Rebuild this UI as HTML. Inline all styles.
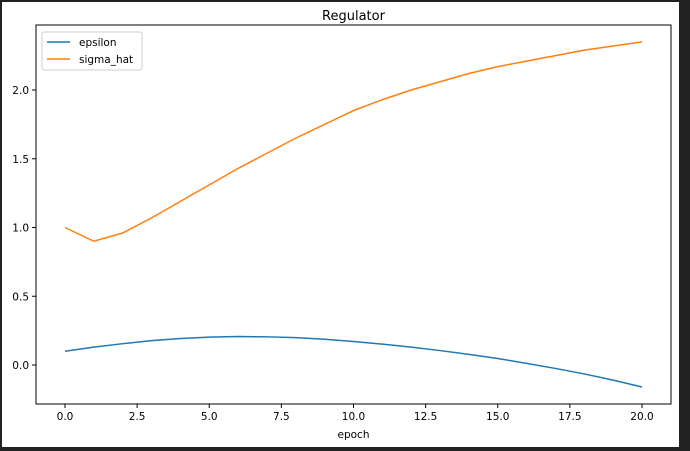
<!DOCTYPE html>
<html><head><style>
body{margin:0;background:#fff;}
svg{display:block;font-family:"DejaVu Sans","Liberation Sans",sans-serif;}
</style></head><body>
<svg id="s" width="690" height="451" xmlns="http://www.w3.org/2000/svg">
<rect x="0" y="0" width="690" height="451" fill="#222"/>
<rect x="2" y="2" width="677" height="445" fill="#fff"/>
<text x="353.5" y="20" font-size="13" text-anchor="middle">Regulator</text>
<rect x="36" y="25" width="635" height="379" fill="none" stroke="#000" stroke-width="1"/>
<g id="t" font-size="10.5" fill="#000"></g>
<text x="353.5" y="438" font-size="10.5" text-anchor="middle">epoch</text>
<polyline id="e" fill="none" stroke="#1f77b4" stroke-width="1.5"/>
<polyline id="g" fill="none" stroke="#ff7f0e" stroke-width="1.5"/>
<rect x="42" y="32" width="100" height="38" rx="2" fill="#fff" stroke="#ccc" stroke-width="1"/>
<line x1="47" y1="42" x2="70" y2="42" stroke="#1f77b4" stroke-width="1.5"/>
<line x1="47" y1="59" x2="70" y2="59" stroke="#ff7f0e" stroke-width="1.5"/>
<text x="79" y="46" font-size="10.5">epsilon</text>
<text x="79" y="63" font-size="10.5">sigma_hat</text>
</svg>
<script>
var X=function(v){return 65+v*28.85},Y=function(v){return 365-v*137.5};
var eps=[0.10,0.13,0.155,0.177,0.193,0.203,0.207,0.205,0.199,0.187,0.171,0.152,0.130,0.105,0.077,0.047,0.012,-0.025,-0.065,-0.11,-0.16];
var sig=[1.0,0.9,0.96,1.07,1.19,1.31,1.43,1.54,1.65,1.75,1.85,1.93,2.0,2.06,2.12,2.17,2.21,2.25,2.29,2.32,2.35];
document.getElementById('e').setAttribute('points',eps.map((v,i)=>X(i)+','+Y(v)).join(' '));
document.getElementById('g').setAttribute('points',sig.map((v,i)=>X(i)+','+Y(v)).join(' '));
var t='';
for(var i=0;i<=8;i++){var v=i*2.5,x=X(v);t+='<line x1="'+x+'" y1="404" x2="'+x+'" y2="408" stroke="#000"/><text x="'+x+'" y="420" text-anchor="middle">'+v.toFixed(1)+'</text>';}
for(var i=0;i<=4;i++){var v=i*0.5,y=Y(v);t+='<line x1="32" y1="'+y+'" x2="36" y2="'+y+'" stroke="#000"/><text x="29" y="'+(y+4)+'" text-anchor="end">'+v.toFixed(1)+'</text>';}
document.getElementById('t').innerHTML=t;
</script>
</body></html>
